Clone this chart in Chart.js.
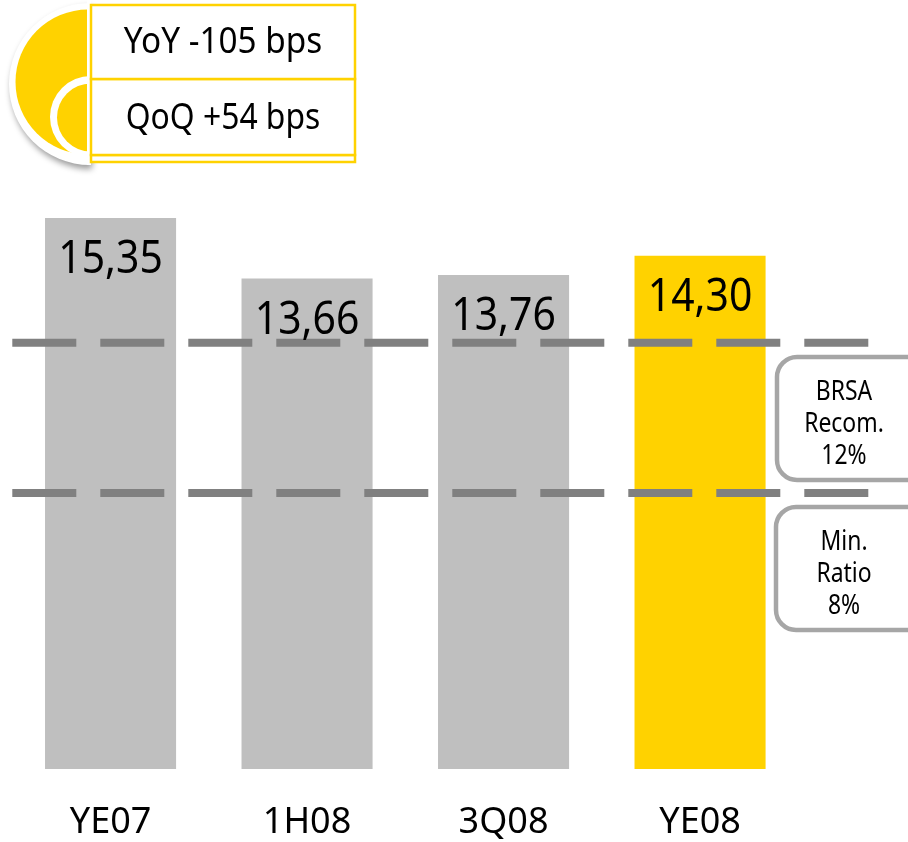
<!DOCTYPE html>
<html><head><meta charset="utf-8">
<script src="https://cdn.jsdelivr.net/npm/chart.js@4"></script>
<style>html,body{margin:0;padding:0;background:#fff}canvas{display:block}</style>
</head><body><canvas id="c" width="908" height="842"></canvas>
<script>
const categories = ['YE07','1H08','3Q08','YE08'];
const ratios = [15.35,13.66,13.76,14.30];
const ratioLabels = ['15,35','13,66','13,76','14,30'];
const barColors = ['#BFBFBF','#BFBFBF','#BFBFBF','#FFD200'];
const recomLine = [11.87,11.87];
const minLine = [7.69,7.69];
const lineSpan = [0,4.357];
const FONT = '"Noto Sans"';

function sText(ctx,t,x,y,size,sx){
  ctx.save();ctx.translate(x,y);ctx.scale(sx,1);
  ctx.font=size+'px '+FONT;ctx.fillStyle='#000';ctx.textAlign='center';ctx.textBaseline='middle';
  ctx.fillText(t,0,0);ctx.restore();
}
function rr(ctx,x,y,w,h,r){ctx.beginPath();ctx.roundRect(x,y,w,h,r);}

const overlay={id:'overlay',afterDatasetsDraw(chart){
  const ctx=chart.ctx;
  const meta=chart.getDatasetMeta(2);
  meta.data.forEach((b,i)=>sText(ctx,ratioLabels[i],b.x,b.y+42,46,0.89));
  // callouts
  ctx.save();ctx.strokeStyle='#A6A6A6';ctx.lineWidth=4.5;ctx.fillStyle='#fff';
  rr(ctx,777,357,150,123,20);ctx.fill();ctx.stroke();
  rr(ctx,776,507,150,123,20);ctx.fill();ctx.stroke();ctx.restore();
  [['BRSA',392],['Recom.',424],['12%',456],['Min.',542],['Ratio',574],['8%',606]]
    .forEach(([t,y])=>sText(ctx,t,844,y,27,0.85));
  // badge
  ctx.save();
  ctx.shadowColor='rgba(0,0,0,0.4)';ctx.shadowBlur=6;ctx.shadowOffsetX=2;ctx.shadowOffsetY=4;
  ctx.fillStyle='#fff';ctx.beginPath();ctx.arc(90,84,81,Math.PI/2,Math.PI*1.5);ctx.closePath();ctx.fill();
  ctx.restore();
  ctx.fillStyle='#FFD200';ctx.beginPath();ctx.arc(88,82,72.5,Math.PI/2,Math.PI*1.5);ctx.closePath();ctx.fill();
  ctx.fillStyle='#fff';ctx.beginPath();ctx.arc(91,117,41,Math.PI/2,Math.PI*1.5);ctx.closePath();ctx.fill();
  ctx.fillStyle='#FFD200';ctx.beginPath();ctx.arc(91,117.5,34,Math.PI/2,Math.PI*1.5);ctx.closePath();ctx.fill();
  ctx.fillStyle='#fff';ctx.fillRect(87,0,4,165);
  ctx.strokeStyle='#FFD200';ctx.lineWidth=2.5;ctx.fillStyle='#fff';
  [[91,155,264,7],[91,79,264,76],[91,5,264,74]].forEach(([x,y,w,h])=>{ctx.fillRect(x,y,w,h);ctx.strokeRect(x,y,w,h);});
  sText(ctx,'YoY -105 bps',223,42,37,0.9);
  sText(ctx,'QoQ +54 bps',223,118,37,0.86);
}};

new Chart(document.getElementById('c'),{
  type:'bar',
  data:{labels:categories,datasets:[
    {type:'line',xAxisID:'x2',data:lineSpan.map((x,i)=>({x,y:recomLine[i]})),borderColor:'#808080',borderWidth:8,borderDash:[64,24],pointRadius:0,clip:false,order:1},
    {type:'line',xAxisID:'x2',data:lineSpan.map((x,i)=>({x,y:minLine[i]})),borderColor:'#808080',borderWidth:8,borderDash:[64,24],pointRadius:0,clip:false,order:1},
    {type:'bar',xAxisID:'x',data:ratios,backgroundColor:barColors,barPercentage:0.667,categoryPercentage:1,grouped:false,order:2}
  ]},
  options:{responsive:false,animation:false,
    layout:{padding:{left:12.3,right:109.7,top:51,bottom:0}},
    plugins:{legend:{display:false},tooltip:{enabled:false}},
    scales:{
      y:{display:false,min:0,max:20},
      x:{offset:true,grid:{display:false},border:{display:false},
         ticks:{color:'#000',font:{family:'"Noto Sans"',size:36},padding:24,maxRotation:0},
         afterFit(a){a.height=73;}},
      x2:{type:'linear',display:false,min:0,max:4,offset:false}
    }
  },
  plugins:[overlay]
});
</script></body></html>
